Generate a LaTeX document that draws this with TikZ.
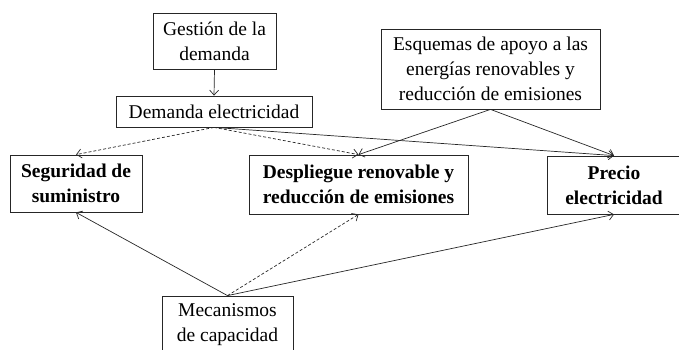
\documentclass[tikz,border=0pt]{standalone}
\usepackage{fontspec}
\setmainfont{Liberation Serif}
\usetikzlibrary{arrows.meta}
\begin{document}
\begin{tikzpicture}[x=1pt,y=-1pt,
  box/.style={draw=black!85, line width=0.8pt, inner sep=0pt, align=center,
    font=\fontsize{19.5}{25}\selectfont},
  bbox/.style={box, font=\fontsize{19.5}{25}\selectfont\bfseries},
  conn/.style={draw=black!85, line width=0.7pt, -{Straight Barb[length=5pt,width=9pt]}},
  dconn/.style={conn, dash pattern=on 3pt off 2pt}]
\useasboundingbox (0,0) rectangle (679,350);
\clip (0,0) rectangle (679,350);
\node[box, minimum width=123, minimum height=56] (G) at (214.5,41) {Gestión de la\\demanda};
\node[box, minimum width=196, minimum height=31] (D) at (214,111.5) {Demanda electricidad};
\node[box, minimum width=219, minimum height=80] (E) at (490.5,69) {Esquemas de apoyo a las\\energías renovables y\\reducción de emisiones};
\node[bbox, minimum width=132, minimum height=57] (S) at (76,183.5) {Seguridad de\\suministro};
\node[bbox, minimum width=219, minimum height=59] (R) at (358.5,184.5) {Despliegue renovable y\\reducción de emisiones};
\node[bbox, minimum width=134, minimum height=58] (P) at (614,185) {Precio\\electricidad};
\node[box, minimum width=131, minimum height=58] (M) at (227.5,325) {Mecanismos\\de capacidad};
\draw[conn] (G.south) -- (D.north);
\draw[dconn] (D.south) -- (S.north);
\draw[dconn] (D.south) -- (R.north);
\draw[conn] (D.south) -- (P.north);
\draw[conn] (E.south) -- (R.north);
\draw[conn] (E.south) -- (P.north);
\draw[conn] (M.north) -- (S.south);
\draw[dconn] (M.north) -- (R.south);
\draw[conn] (M.north) -- (P.south);
\end{tikzpicture}
\end{document}
